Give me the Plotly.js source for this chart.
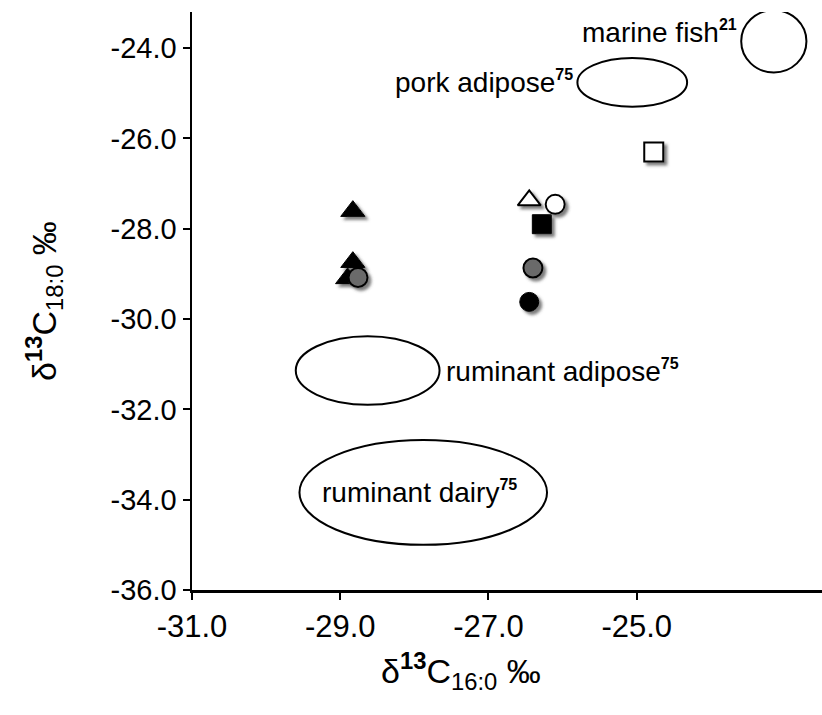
<!DOCTYPE html>
<html>
<head>
<meta charset="utf-8">
<script src="https://cdn.plot.ly/plotly-3.0.1.min.js"></script>
<style>
  html, body { margin: 0; padding: 0; background: #fff; }
  #chart { width: 822px; height: 715px; }
</style>
</head>
<body>
<svg width="0" height="0" style="position:absolute">
  <defs>
    <filter id="shadow" x="-50%" y="-50%" width="200%" height="200%">
      <feDropShadow dx="3" dy="3" stdDeviation="1.8" flood-color="#444" flood-opacity="0.7"/>
    </filter>
  </defs>
</svg>
<div id="chart"></div>
<script>
// ---- data ----
// black filled triangles
const triX = [-28.83, -28.83, -28.90];
const triY = [-27.61, -28.74, -29.10];
// grey circles
const greyX = [-28.76, -26.40];
const greyY = [-29.08, -28.87];
// black circle
const blackCircX = [-26.45];
const blackCircY = [-29.62];
// black square
const blackSqX = [-26.28];
const blackSqY = [-27.90];
// open triangle
const openTriX = [-26.45];
const openTriY = [-27.37];
// open circle
const openCircX = [-26.10];
const openCircY = [-27.46];
// open square
const openSqX = [-24.77];
const openSqY = [-26.30];

// reference ranges (ellipses): centre and half-widths
const ellNames = ["marine fish", "pork adipose", "ruminant adipose", "ruminant dairy"];
const ellCx = [-23.15, -25.06, -28.63, -27.88];
const ellCy = [-23.85, -24.76, -31.14, -33.84];
const ellRx = [0.44, 0.74, 0.97, 1.67];
const ellRy = [0.69, 0.54, 0.76, 1.16];
const ellRefs = ["21", "75", "75", "75"];

// axis ticks
const xTickVals = [-31, -29, -27, -25];
const xTickText = ["-31.0", "-29.0", "-27.0", "-25.0"];
const yTickVals = [-36, -34, -32, -30, -28, -26, -24];
const yTickText = ["-36.0", "-34.0", "-32.0", "-30.0", "-28.0", "-26.0", "-24.0"];

const FONT = "Liberation Sans, Arial, sans-serif";

function mk(x, y, symbol, fill, size, lw) {
  return {
    type: "scatter", mode: "markers", x: x, y: y, showlegend: false, hoverinfo: "x+y",
    marker: { symbol: symbol, color: fill, size: size, line: { color: "#000", width: lw } }
  };
}

const traces = [
  mk(triX, triY, "triangle-up", "#000", 21, 1),
  mk(greyX, greyY, "circle", "#6b6b6b", 19, 2),
  mk(blackCircX, blackCircY, "circle", "#000", 19, 1),
  mk(blackSqX, blackSqY, "square", "#000", 19, 1),
  mk(openTriX, openTriY, "triangle-up", "#fff", 20, 2),
  mk(openCircX, openCircY, "circle", "#fff", 19, 2),
  mk(openSqX, openSqY, "square", "#fff", 19, 2)
];

const shapes = ellCx.map((cx, i) => ({
  type: "circle", xref: "x", yref: "y",
  x0: cx - ellRx[i], x1: cx + ellRx[i], y0: ellCy[i] - ellRy[i], y1: ellCy[i] + ellRy[i],
  line: { color: "#000", width: 2 }, fillcolor: "rgba(0,0,0,0)", layer: "below"
}));

function lbl(i) {
  return ellNames[i] + "<sup><span style='font-size:16px'><b>" + ellRefs[i] + "</b></span></sup>";
}

const annFont = { family: FONT, size: 28, color: "#000" };
const annotations = [
  { xref: "x", yref: "y", x: ellCx[0] - ellRx[0] - 0.03, y: ellCy[0] + 0.2, text: lbl(0),
    showarrow: false, xanchor: "right", yanchor: "middle", font: annFont },
  { xref: "x", yref: "y", x: ellCx[1] - ellRx[1] - 0.03, y: ellCy[1], text: lbl(1),
    showarrow: false, xanchor: "right", yanchor: "middle", font: annFont },
  { xref: "x", yref: "y", x: ellCx[2] + ellRx[2] + 0.06, y: ellCy[2], text: lbl(2),
    showarrow: false, xanchor: "left", yanchor: "middle", font: annFont },
  { xref: "x", yref: "y", x: ellCx[3] - 0.05, y: ellCy[3], text: lbl(3),
    showarrow: false, xanchor: "center", yanchor: "middle", font: annFont },
  { xref: "paper", yref: "paper", x: 0.427, y: -0.095, yanchor: "top", xanchor: "center",
    text: "δ<sup><b>13</b></sup>C<sub>16:0</sub> ‰", showarrow: false,
    font: { family: FONT, size: 34, color: "#000" } }
];

const layout = {
  width: 822, height: 715,
  margin: { l: 192, r: 0, t: 12, b: 125 },
  paper_bgcolor: "#fff", plot_bgcolor: "#fff",
  font: { family: FONT, color: "#000", size: 29 },
  showlegend: false,
  xaxis: {
    range: [-31, -22.5], tickvals: xTickVals, ticktext: xTickText,
    showgrid: false, zeroline: false, showline: true, linecolor: "#000", linewidth: 2.5,
    ticks: "outside", ticklen: 7, tickwidth: 2, tickcolor: "#000",
    tickfont: { family: FONT, size: 31 }, fixedrange: true
  },
  yaxis: {
    range: [-36, -23.2], tickvals: yTickVals, ticktext: yTickText,
    showgrid: false, zeroline: false, showline: true, linecolor: "#000", linewidth: 2.5,
    ticks: "outside", ticklen: 7, tickwidth: 2, tickcolor: "#000",
    tickfont: { family: FONT, size: 29 }, fixedrange: true,
    title: { text: "δ<sup><b>13</b></sup>C<sub>18:0</sub> ‰", font: { family: FONT, size: 34 }, standoff: 44 }
  },
  shapes: shapes,
  annotations: annotations
};

Plotly.newPlot("chart", traces, layout, { displayModeBar: false, staticPlot: true }).then(() => {
  document.querySelectorAll("#chart .scatterlayer .trace").forEach(g => g.setAttribute("filter", "url(#shadow)"));
});
</script>
</body>
</html>
